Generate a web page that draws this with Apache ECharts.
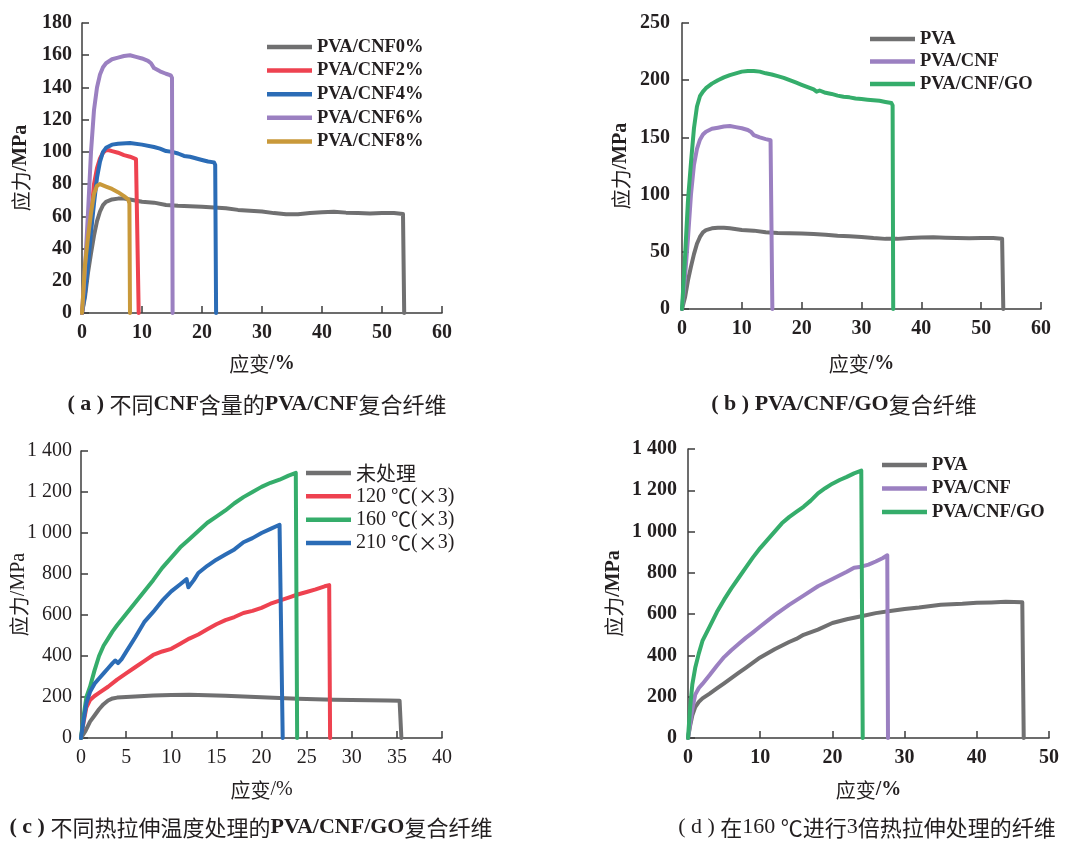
<!DOCTYPE html>
<html><head><meta charset="utf-8">
<script src="https://cdn.jsdelivr.net/npm/echarts@6/dist/echarts.min.js"></script>
<style>html,body{margin:0;padding:0;background:#fff}#c{width:1070px;height:842px}</style>
</head><body><div id="c"></div>
<script>
// ---------- Panel (a): PVA/CNF with different CNF contents ----------
const aNames = ['PVA/CNF0%','PVA/CNF2%','PVA/CNF4%','PVA/CNF6%','PVA/CNF8%'];
const aCNF0 = [[0,0],[0.5,10],[1,25],[1.5,37],[2,48],[2.5,57],[3,63],[3.5,67],[4,69],[5,70.5],[6,71],[7,71],[8,70.5],[10,69],[12,68.5],[14,67],[16,66.5],[18,66.3],[20,66],[22,65.5],[24,65],[26,64],[28,63.5],[30,63],[32,62],[34,61.3],[36,61.3],[38,62],[40,62.5],[42,62.8],[44,62.3],[46,62],[48,61.8],[50,62],[52,62],[53.5,61.5],[53.7,0]];
const aCNF2 = [[0,0],[0.5,18],[1,40],[1.5,60],[2,80],[2.5,90],[3,96],[3.5,99.5],[4,101],[4.5,101],[5,100.5],[6,99.5],[7,98],[8,97],[9,95.5],[9.3,95],[9.45,0]];
const aCNF4 = [[0,0],[0.5,12],[1,30],[1.5,50],[2,68],[2.5,84],[3,94],[3.5,100],[4,102.5],[5,104.5],[6,105],[8,105.5],[10,104.5],[12,103],[13,102],[14,100.5],[15,100],[16,99],[17,97.5],[18,97],[20,95],[21,94],[22,93.5],[22.2,92],[22.35,0]];
const aCNF6 = [[0,0],[0.5,28],[1,62],[1.5,100],[2,126],[2.5,140],[3,148],[3.5,152.5],[4,155],[5,157.5],[6,158.5],[7,159.5],[8,160],[9,159],[10,158],[11,156.5],[11.5,155],[12,152],[13,150],[14,148.5],[14.8,147.5],[15,146],[15.1,0]];
const aCNF8 = [[0,0],[0.5,30],[1,47],[1.5,62],[2,74],[2.5,79],[3,80],[4,78.5],[5,77],[6,75],[7,72.5],[7.7,70.5],[7.9,68],[8.0,0]];

// ---------- Panel (b): PVA/CNF/GO composite fibers ----------
const bNames = ['PVA','PVA/CNF','PVA/CNF/GO'];
const bPVA = aCNF0;
const bCNF = aCNF6;
const bGO = [[0,0],[0.5,45],[1,95],[1.5,128],[2,158],[2.5,177],[3,186],[3.5,190],[4,193],[5,197],[6,200],[7,202.5],[8,204.5],[9,206],[10,207.5],[11,208],[12,208],[13,207.5],[14,206],[15,205],[16,203.5],[17,202],[18,200],[19,198],[20,196],[21,194],[22,192],[22.5,190],[23,191],[24,189],[25,188],[26,186.5],[27,185.5],[28,185],[29,184],[30,183.5],[31,183],[32,182.5],[33,182],[34,181],[35,180],[35.2,178],[35.3,0]];

// ---------- Panel (c): different hot-drawing temperatures ----------
const cNames = ['未处理','120 ℃(×3)','160 ℃(×3)','210 ℃(×3)'];
const cUn = [[0,0],[0.5,35],[1,80],[1.5,110],[2,140],[2.5,165],[3,183],[3.5,193],[4,197],[5,200],[6,203],[8,207],[10,210],[12,211],[14,209],[16,206],[18,203],[20,199],[22,195],[24,192],[26,189],[28,187],[30,185],[32,184],[34,183],[35.3,182],[35.5,0]];
const c120 = [[0,0],[0.3,80],[0.6,150],[1,185],[1.5,205],[2,220],[3,250],[4,285],[5,315],[6,345],[7,375],[8,405],[9,422],[10,435],[11,460],[12,485],[13,505],[14,530],[15,555],[16,575],[17,590],[18,610],[19,620],[20,635],[21,655],[22,670],[23,685],[24,700],[25,712],[26,725],[27,740],[27.5,746],[27.6,0]];
const c160 = [[0,0],[0.3,110],[0.6,200],[1,250],[1.5,330],[2,400],[2.5,450],[3,485],[3.5,520],[4,550],[5,605],[6,660],[7,715],[8,770],[9,830],[10,880],[11,930],[12,970],[13,1010],[14,1050],[15,1080],[16,1110],[17,1145],[18,1175],[19,1200],[20,1225],[21,1245],[22,1260],[23,1280],[23.8,1293],[23.95,0]];
const c210 = [[0,0],[0.3,90],[0.6,170],[1,225],[1.5,265],[2,290],[2.5,315],[3,340],[3.5,365],[3.8,378],[4.1,365],[4.5,385],[5,420],[6,490],[7,565],[8,615],[9,670],[10,715],[11,750],[11.7,775],[11.9,735],[12.5,770],[13,805],[14,840],[15,870],[16,895],[17,920],[18,955],[19,975],[20,1000],[21,1020],[22,1040],[22.2,1045],[22.35,0]];

// ---------- Panel (d): 160 ℃, 3x hot-drawn fibers ----------
const dNames = ['PVA','PVA/CNF','PVA/CNF/GO'];
const dPVA = [[0,0],[0.3,60],[0.6,110],[1,150],[1.5,175],[2,192],[3,215],[4,240],[5,265],[6,290],[7,315],[8,340],[9,365],[10,390],[12,430],[14,465],[15,480],[16,500],[18,525],[20,557],[22,575],[24,590],[26,605],[28,615],[30,625],[32,632],[35,645],[38,650],[40,655],[42,657],[44,660],[46.3,658],[46.5,0]];
const dCNF = [[0,0],[0.3,70],[0.6,140],[1,210],[1.5,242],[2,262],[3,305],[4,350],[5,392],[6,425],[7,455],[8,485],[9,512],[10,540],[12,595],[14,645],[16,690],[18,735],[20,770],[22,805],[23,825],[24,830],[25,840],[26,855],[27,872],[27.6,885],[27.7,0]];
const dGO = [[0,0],[0.3,150],[0.6,260],[1,340],[1.5,410],[2,470],[3,540],[4,610],[5,670],[6,725],[7,775],[8,825],[9,875],[10,920],[11,960],[12,1000],[13,1040],[14,1070],[15,1095],[16,1120],[17,1150],[18,1185],[19,1210],[20,1232],[21,1250],[22,1265],[23,1282],[24,1295],[24.2,0]];

// ---------- Text ----------
const titles = ['( a ) 不同CNF含量的PVA/CNF复合纤维','( b ) PVA/CNF/GO复合纤维','( c ) 不同热拉伸温度处理的PVA/CNF/GO复合纤维','( d ) 在160 ℃进行3倍热拉伸处理的纤维'];
const yName = '应力/MPa';
const xName = '应变/%';

const COL = {gray:'#707071', red:'#ee4250', blue:'#2b6cb6', purple:'#9b80c1', gold:'#c9993a', green:'#35ad6b'};
const TXT = '#231f20';

function rt(s){
  let out='', cur='', type=null;
  for (const ch of s){
    const t = /[\u2100-\u9fff\uff00-\uffef\u00d7]/.test(ch) ? 'c' : 'l';
    if (t!==type){ if(cur) out += '{'+type+'|'+cur+'}'; cur=''; type=t; }
    cur += ch;
  }
  if (cur) out += '{'+type+'|'+cur+'}';
  return out;
}
function rich(size, bold, lh){
  return {
    c:{fontFamily:'"Noto Sans CJK SC"', fontSize:size, fontWeight:'normal', color:TXT, lineHeight:lh},
    l:{fontFamily:'"Liberation Serif"', fontSize:size, fontWeight:bold?'bold':'normal', color:TXT, lineHeight:lh}
  };
}
function fmtY(v){ return v>=1000 ? Math.floor(v/1000)+' '+String(v%1000).padStart(3,'0') : String(v); }

const grids = [
  {left:82, top:23, width:360, height:290},
  {left:682, top:23, width:359, height:286},
  {left:81, top:451, width:361, height:287},
  {left:688, top:449, width:361, height:289}
];
const axCfg = [
  {xmax:60, xint:10, ymax:180, yint:20, bold:true, yGap:50, xGap:40, yMargin:10},
  {xmax:60, xint:10, ymax:250, yint:50, bold:true, yGap:50, xGap:44, yMargin:12},
  {xmax:40, xint:5, ymax:1400, yint:200, bold:false, yGap:51, xGap:41, yMargin:9},
  {xmax:50, xint:10, ymax:1400, yint:200, bold:true, yGap:63, xGap:41, yMargin:11}
];
const axisLine = {lineStyle:{color:'#3c3c3c', width:1.5}};
const axisTick = {inside:true, length:7, lineStyle:{color:'#3c3c3c', width:1.5}};

const xAxes = axCfg.map((a,i)=>({
  type:'value', gridIndex:i, min:0, max:a.xmax, interval:a.xint,
  axisLine, axisTick, splitLine:{show:false},
  axisLabel:{fontFamily:'"Liberation Serif"', fontSize:20, fontWeight:a.bold?'bold':'normal', color:TXT, margin:10},
  name:rt(xName), nameLocation:'middle', nameGap:a.xGap, nameMoveOverlap:false,
  nameTextStyle:{rich:rich(20,a.bold,22)}
}));
const yAxes = axCfg.map((a,i)=>({
  type:'value', gridIndex:i, min:0, max:a.ymax, interval:a.yint,
  axisLine:{show:true, ...axisLine}, axisTick:{show:true, ...axisTick}, splitLine:{show:false},
  axisLabel:{fontFamily:'"Liberation Serif"', fontSize:20, fontWeight:a.bold?'bold':'normal', color:TXT, margin:a.yMargin, formatter:fmtY},
  name:rt(yName), nameLocation:'middle', nameGap:a.yGap, nameRotate:90, nameMoveOverlap:false,
  nameTextStyle:{rich:rich(20,a.bold,22)}
}));

function ser(name, data, color, gi){
  return {type:'line', name, data, xAxisIndex:gi, yAxisIndex:gi, symbol:'none', showSymbol:false,
    lineStyle:{color, width:4, cap:'round', join:'round'}, itemStyle:{color}, animation:false};
}
const series = [
  ser(aNames[0], aCNF0, COL.gray, 0), ser(aNames[1], aCNF2, COL.red, 0), ser(aNames[2], aCNF4, COL.blue, 0),
  ser(aNames[3], aCNF6, COL.purple, 0), ser(aNames[4], aCNF8, COL.gold, 0),
  ser(bNames[0], bPVA, COL.gray, 1), ser(bNames[1], bCNF, COL.purple, 1), ser(bNames[2], bGO, COL.green, 1),
  ser(cNames[0], cUn, COL.gray, 2), ser(cNames[1], c120, COL.red, 2), ser(cNames[2], c160, COL.green, 2), ser(cNames[3], c210, COL.blue, 2),
  ser(dNames[0], dPVA, COL.gray, 3), ser(dNames[1], dCNF, COL.purple, 3), ser(dNames[2], dGO, COL.green, 3)
];

function legend(names, left, top, lh, bold, size){
  return {data:names, left, top, orient:'vertical', padding:0, itemGap:0, itemWidth:45, itemHeight:4.5,
    icon:'rect', selectedMode:false, formatter:n=>rt(n),
    textStyle:{rich:rich(size,bold,lh), lineHeight:lh}};
}
const legends = [
  legend(aNames, 267, 35.2, 23.6, true, 18.5),
  legend(bNames, 870, 27.7, 22.5, true, 18.5),
  legend(cNames, 306, 461.4, 23.3, false, 20),
  legend(dNames, 882, 453.3, 23.5, true, 18.5)
];

const tPos = [[257,391],[844,391],[251,814],[867,814]];
const tBold = [true,true,true,false];
const title = titles.map((t,i)=>({text:rt(t), left:tPos[i][0], top:tPos[i][1], textAlign:'center', padding:0,
  textStyle:{rich:rich(22,tBold[i],27)}}));

const chart = echarts.init(document.getElementById('c'), null, {renderer:'canvas'});
chart.setOption({animation:false, backgroundColor:'#fff', title, legend:legends, grid:grids, xAxis:xAxes, yAxis:yAxes, series});
</script>
</body></html>
